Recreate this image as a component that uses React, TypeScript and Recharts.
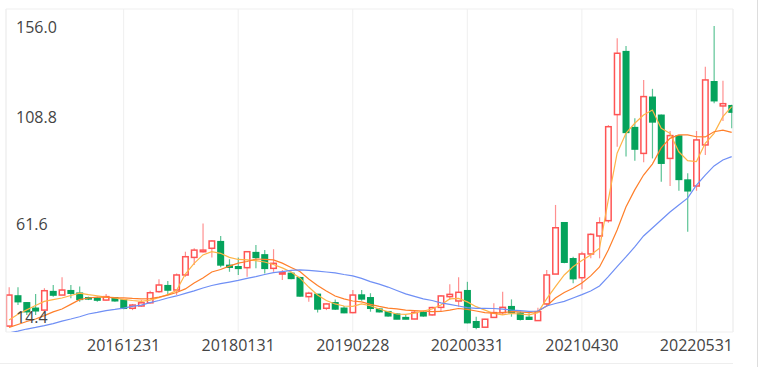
import React from 'react';
import { ComposedChart, Bar, Line, XAxis, YAxis, CartesianGrid, ReferenceLine } from 'recharts';

const dates = [
  '20151130', '20151231', '20160131', '20160229', '20160331', '20160430', '20160531', '20160630',
  '20160731', '20160831', '20160930', '20161031', '20161130', '20161231', '20170131', '20170228',
  '20170331', '20170430', '20170531', '20170630', '20170731', '20170831', '20170930', '20171031',
  '20171130', '20171231', '20180131', '20180228', '20180331', '20180430', '20180531', '20180630',
  '20180731', '20180831', '20180930', '20181031', '20181130', '20181231', '20190131', '20190228',
  '20190331', '20190430', '20190531', '20190630', '20190731', '20190831', '20190930', '20191031',
  '20191130', '20191231', '20200131', '20200229', '20200331', '20200430', '20200531', '20200630',
  '20200731', '20200831', '20200930', '20201031', '20201130', '20201231', '20210131', '20210228',
  '20210331', '20210430', '20210531', '20210630', '20210731', '20210831', '20210930', '20211031',
  '20211130', '20211231', '20220131', '20220228', '20220331', '20220430', '20220531', '20220630',
  '20220731', '20220831', '20220930',
];

const open = [
  17.0, 30.2, 27.2, 24.8, 24.0, 32.1, 30.6, 32.5, 31.4, 29.4, 29.2, 28.4, 29.4, 28.4, 24.8, 25.8,
  27.2, 32.1, 34.7, 32.8, 39.4, 47.1, 49.6, 51.1, 54.0, 43.6, 43.0, 42.6, 49.2, 48.2, 42.3, 39.8,
  40.1, 38.2, 29.9, 30.9, 24.8, 27.2, 24.8, 22.9, 30.6, 29.4, 24.4, 23.3, 22.2, 20.7, 20.1, 22.9,
  21.9, 25.2, 29.9, 28.0, 32.5, 18.9, 16.5, 20.8, 22.9, 25.5, 22.6, 20.8, 19.4, 26.7, 39.8, 62.3,
  46.5, 38.2, 48.6, 56.5, 63.2, 109.7, 137.3, 104.0, 92.7, 117.3, 109.4, 90.5, 100.3, 81.0, 78.4, 96.4,
  124.1, 113.5, 113.6,
];
const high = [
  34.0, 34.0, 27.5, 31.1, 33.6, 35.0, 38.4, 35.0, 34.3, 29.9, 29.9, 31.1, 29.5, 28.5, 26.7, 28.4,
  32.5, 37.5, 36.8, 40.1, 49.6, 51.1, 62.0, 54.6, 56.5, 46.3, 47.1, 49.9, 52.5, 50.3, 50.7, 41.6,
  40.8, 38.6, 32.1, 31.1, 27.0, 28.7, 25.8, 32.8, 32.8, 31.4, 24.8, 23.6, 22.6, 21.9, 24.0, 23.6,
  25.5, 30.6, 35.3, 38.4, 36.4, 21.1, 20.2, 27.0, 32.1, 28.7, 23.3, 22.6, 25.0, 41.6, 70.1, 62.5,
  47.4, 49.6, 57.7, 64.7, 105.1, 143.2, 139.8, 108.1, 124.9, 121.0, 109.7, 102.5, 100.6, 84.0, 102.5, 130.7,
  148.6, 124.6, 114.0,
];
const low = [
  16.6, 26.2, 21.9, 21.9, 23.7, 29.9, 30.6, 29.2, 27.7, 28.4, 27.7, 28.1, 27.7, 24.4, 24.0, 25.5,
  26.9, 31.6, 30.6, 30.6, 38.6, 43.8, 49.2, 47.1, 42.8, 40.8, 39.4, 38.6, 42.3, 40.1, 40.8, 37.2,
  37.5, 29.9, 27.7, 22.9, 24.0, 24.0, 22.6, 22.6, 28.1, 23.3, 23.0, 21.1, 20.0, 20.0, 20.0, 21.1,
  21.5, 23.3, 28.4, 25.5, 18.2, 15.6, 16.3, 20.7, 21.9, 21.1, 19.4, 19.7, 19.3, 25.5, 39.8, 44.5,
  35.8, 33.1, 46.7, 46.7, 62.3, 95.6, 91.3, 89.5, 88.8, 90.5, 80.3, 78.4, 76.3, 58.3, 76.3, 92.0,
  114.7, 106.9, 103.7,
];
const close = [
  30.6, 27.7, 23.3, 23.7, 32.5, 30.6, 32.8, 31.4, 28.7, 28.9, 28.4, 29.9, 28.1, 24.8, 26.2, 27.2,
  31.6, 35.0, 32.8, 39.4, 47.4, 50.3, 50.3, 54.3, 43.8, 42.8, 42.3, 49.6, 47.1, 42.3, 44.5, 40.4,
  37.9, 30.2, 31.4, 24.5, 26.7, 24.5, 22.9, 30.6, 28.9, 24.8, 23.3, 21.5, 20.1, 20.1, 23.0, 21.5,
  25.1, 30.2, 30.9, 31.8, 18.5, 16.5, 20.0, 22.9, 25.2, 22.9, 20.0, 20.0, 23.3, 39.4, 60.1, 45.0,
  37.8, 48.6, 57.2, 62.3, 104.4, 136.6, 101.9, 94.6, 117.6, 106.5, 88.4, 100.5, 81.3, 76.3, 98.6, 124.9,
  115.8, 114.5, 110.8,
];

const ma5 = [
  19.7, 22.2, 24.1, 26.0, 27.8, 28.6, 29.3, 30.4, 31.4, 30.8, 30.3, 29.7, 29.3, 28.7, 28.2, 27.8,
  28.4, 29.5, 30.8, 32.6, 39.8, 44.5, 48.2, 49.6, 48.9, 47.1, 46.2, 46.0, 45.7, 45.1, 44.0, 42.5,
  40.7, 38.1, 34.1, 30.6, 28.2, 26.7, 25.8, 25.6, 26.7, 25.9, 24.5, 23.3, 22.3, 22.1, 22.7, 23.6,
  24.5, 26.2, 28.9, 29.1, 27.6, 25.5, 24.0, 22.5, 21.9, 22.5, 22.3, 21.9, 22.9, 28.9, 34.3, 39.4,
  43.0, 45.7, 48.2, 51.1, 72.3, 92.8, 101.5, 105.9, 109.5, 111.7, 103.7, 101.5, 93.4, 89.5, 89.1, 97.1,
  101.5, 108.8, 113.2,
];
const ma10 = [
  16.4, 17.7, 19.0, 20.1, 21.6, 23.2, 24.5, 26.5, 28.6, 29.3, 29.7, 29.7, 29.5, 29.4, 29.1, 28.9,
  29.0, 29.7, 30.6, 31.7, 33.3, 35.9, 38.1, 40.7, 41.8, 43.3, 44.6, 45.3, 46.4, 46.2, 46.0, 44.6,
  42.7, 40.9, 37.6, 34.8, 32.4, 30.2, 28.9, 28.0, 27.6, 26.5, 25.6, 24.9, 24.5, 24.0, 23.8, 23.6,
  23.3, 23.4, 24.0, 24.7, 24.3, 23.6, 22.9, 22.7, 22.9, 23.3, 23.2, 22.9, 23.4, 25.8, 29.3, 31.7,
  33.6, 35.9, 39.0, 42.9, 50.3, 59.1, 69.2, 76.7, 83.2, 88.0, 95.1, 99.3, 100.8, 100.8, 100.0, 99.9,
  102.2, 102.9, 101.9,
];
const ma20 = [
  14.0, 14.8, 15.7, 16.4, 17.2, 18.1, 19.2, 20.1, 21.1, 22.3, 23.0, 23.8, 24.3, 24.9, 25.6, 26.2,
  27.3, 28.2, 29.3, 30.2, 31.3, 32.4, 33.7, 34.8, 35.6, 36.3, 37.0, 37.9, 38.7, 39.6, 40.4, 40.9,
  41.4, 41.6, 41.4, 41.1, 40.7, 40.3, 39.6, 39.0, 37.9, 36.5, 35.4, 34.1, 32.6, 31.1, 30.0, 28.9,
  28.2, 27.2, 26.5, 25.8, 25.1, 24.8, 24.8, 24.7, 24.4, 24.0, 23.8, 23.4, 23.6, 25.8, 26.9, 27.8,
  29.3, 30.8, 32.4, 34.6, 38.7, 43.1, 47.3, 51.7, 56.5, 60.0, 63.5, 67.0, 70.1, 73.1, 78.8, 83.2,
  87.2, 89.8, 91.3,
];

const tickLabels = ['20161231', '20180131', '20190228', '20200331', '20210430', '20220531'];
const yTicks = [14.4, 61.6, 108.8, 156.0];

const UP = '#ff5454';
const DOWN = '#05a35c';
const FONT = '"Open Sans", "Noto Sans", sans-serif';

const data = dates.map((d, i) => ({
  i,
  date: d,
  open: open[i],
  high: high[i],
  low: low[i],
  close: close[i],
  ma5: ma5[i],
  ma10: ma10[i],
  ma20: ma20[i],
}));

const Candle = (props: any) => {
  const { x, y, width, height, payload } = props;
  if (x == null || y == null) return null;
  const top = Math.min(y, y + height);
  const h = Math.abs(height);
  const span = payload.high - payload.low;
  const ppu = span > 0 ? h / span : 0;
  const yOpen = top + (payload.high - payload.open) * ppu;
  const yClose = top + (payload.high - payload.close) * ppu;
  const up = payload.close >= payload.open;
  const color = up ? UP : DOWN;
  const cx = x + width / 2;
  const bodyTop = Math.min(yOpen, yClose);
  const bodyH = Math.max(Math.abs(yOpen - yClose), 1);
  return (
    <g>
      <line x1={cx} x2={cx} y1={top} y2={top + h} stroke={color} strokeOpacity={0.65} strokeWidth={1.2} />
      <rect
        x={x + 0.75}
        y={bodyTop}
        width={width - 1.5}
        height={bodyH}
        fill={up ? '#ffffff' : color}
        stroke={color}
        strokeWidth={1.5}
      />
    </g>
  );
};

// y labels sit inside the plot, over the candles; the outer two are pushed inward
const yLabel = (value: number) => (props: any) => {
  const vb = props.viewBox || {};
  let dy = 0;
  if (value === 156) dy = 17.5;
  if (value === 14.4) dy = -15;
  return (
    <text x={16} y={vb.y + dy} dominantBaseline="central" fill="#444" fontSize={16} fontFamily={FONT}>
      {value.toFixed(1)}
    </text>
  );
};

export default function App() {
  const xTicks = tickLabels.map((t) => dates.indexOf(t));
  return (
    <div style={{ position: 'absolute', left: 0, top: 0, width: 760, height: 367, background: '#fff', fontFamily: FONT }}>
      <ComposedChart width={760} height={367} data={data} margin={{ top: 9, right: 27, bottom: 5, left: 1 }}>
        <CartesianGrid stroke="#efefef" />
        <XAxis
          type="number"
          dataKey="i"
          domain={[-0.35, 82.15]}
          allowDataOverflow
          ticks={xTicks}
          interval={0}
          tickFormatter={(v: number) => dates[v]}
          axisLine={false}
          tickLine={false}
          height={30}
          tick={{ fontSize: 16, fill: '#444', fontFamily: FONT }}
        />
        <YAxis
          domain={[14.4, 156]}
          allowDataOverflow
          ticks={yTicks}
          interval={0}
          width={5}
          axisLine={false}
          tickLine={false}
          tick={false}
        />
        <ReferenceLine x={-0.35} stroke="#efefef" />
        <ReferenceLine x={82.15} stroke="#efefef" />
        <Bar dataKey={(d: any) => [d.low, d.high]} barSize={7} shape={<Candle />} isAnimationActive={false} />
        <Line type="linear" dataKey="ma5" stroke="#ffb347" strokeWidth={1.2} dot={false} activeDot={false} isAnimationActive={false} />
        <Line type="linear" dataKey="ma10" stroke="#ff7f2a" strokeWidth={1.2} dot={false} activeDot={false} isAnimationActive={false} />
        <Line type="linear" dataKey="ma20" stroke="#6f8ff5" strokeWidth={1.2} dot={false} activeDot={false} isAnimationActive={false} />
        {yTicks.map((v) => (
          <ReferenceLine key={v} y={v} stroke="none" label={yLabel(v)} />
        ))}
      </ComposedChart>
      <div style={{ position: 'absolute', left: 0, top: 363, width: 733, height: 1, background: '#eeeeee' }} />
      <div style={{ position: 'absolute', left: 757, top: 0, width: 1, height: 367, background: '#dddddd' }} />
    </div>
  );
}
